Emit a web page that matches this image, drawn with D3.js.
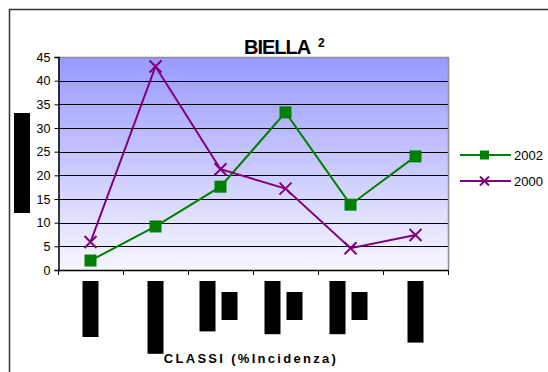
<!DOCTYPE html>
<html>
<head>
<meta charset="utf-8">
<script src="https://cdn.jsdelivr.net/npm/d3@7"></script>
<style>
  body { margin: 0; background: #fff; }
  svg { display: block; font-family: Arial, "Liberation Sans", sans-serif; }
</style>
</head>
<body>
<svg id="chart" width="548" height="372"></svg>
<script>
// Incidence classes (category labels are masked boxes in the source sheet)
const categories = ["c1", "c2", "c3", "c4", "c5", "c6"];
const values2002 = [2, 9.2, 17.6, 33.3, 13.8, 24];
const values2000 = [5.9, 43, 21.3, 17.2, 4.6, 7.4];
const yTicks = [0, 5, 10, 15, 20, 25, 30, 35, 40, 45];
const seriesNames = ["2002", "2000"];
// number of masked lines per category label and their relative lengths
const labelLines = [[1], [1.3], [0.9, 0.5], [0.95, 0.5], [0.95, 0.5], [1.1]];

const svg = d3.select("#chart");
const plot = { left: 58, right: 448, top: 57, bottom: 270 };

const x = d3.scaleBand().domain(categories).range([plot.left, plot.right]);
const y = d3.scaleLinear().domain([0, 45]).range([plot.bottom, plot.top]);

// outer chart frame
svg.append("path")
  .attr("d", `M9.5,372 L9.5,9.5 L548,9.5`)
  .attr("fill", "none").attr("stroke", "#333").attr("stroke-width", 1.5);

// background gradient
const defs = svg.append("defs");
const grad = defs.append("linearGradient").attr("id", "bg")
  .attr("x1", 0).attr("y1", 0).attr("x2", 0).attr("y2", 1);
grad.append("stop").attr("offset", "0%").attr("stop-color", "#9999ff");
grad.append("stop").attr("offset", "100%").attr("stop-color", "#f7f7ff");

svg.append("rect")
  .attr("x", plot.left).attr("y", plot.top)
  .attr("width", plot.right - plot.left).attr("height", plot.bottom - plot.top)
  .attr("fill", "url(#bg)");

// gridlines
svg.append("g").selectAll("line").data(yTicks.filter(d => d > 0 && d < 45)).join("line")
  .attr("x1", plot.left).attr("x2", plot.right)
  .attr("y1", d => Math.round(y(d)) + 0.5).attr("y2", d => Math.round(y(d)) + 0.5)
  .attr("stroke", "#000").attr("stroke-width", 1);

// plot border (top / right)
svg.append("path")
  .attr("d", `M${plot.left},${plot.top + 0.5} L${plot.right + 0.5},${plot.top + 0.5} L${plot.right + 0.5},${plot.bottom}`)
  .attr("fill", "none").attr("stroke", "#8c8c9c").attr("stroke-width", 1.5);

// y axis
const yAxis = d3.axisLeft(y).tickValues(yTicks).tickSize(4).tickPadding(4);
const gy = svg.append("g").attr("transform", `translate(${plot.left + 0.5},0)`).call(yAxis);
gy.select(".domain").attr("stroke", "#000").attr("stroke-width", 1.5);
gy.selectAll("text").attr("font-size", 12.5).attr("fill", "#000")
  .attr("font-family", "Arial, 'Liberation Sans', sans-serif");

// x axis: baseline with ticks at category boundaries
const gx = svg.append("g");
gx.append("line").attr("x1", plot.left).attr("x2", plot.right + 0.5)
  .attr("y1", plot.bottom + 0.5).attr("y2", plot.bottom + 0.5)
  .attr("stroke", "#000").attr("stroke-width", 1.5);
const bounds = categories.map(c => x(c)).concat([x.range()[1]]);
gx.selectAll("line.tick").data(bounds).join("line").attr("class", "tick")
  .attr("x1", d => Math.round(d) + 0.5).attr("x2", d => Math.round(d) + 0.5)
  .attr("y1", plot.bottom).attr("y2", plot.bottom + 5)
  .attr("stroke", "#000").attr("stroke-width", 1);

// masked category labels (rotated text drawn as solid blocks)
const lblG = svg.append("g");
categories.forEach((c, i) => {
  const lines = labelLines[i];
  const n = lines.length;
  const cx = x(c) + x.bandwidth() / 2 - (n > 1 ? 2 : 0);
  lines.forEach((len, j) => {
    const w = 16, gap = 6;
    const left = cx - (n * w + (n - 1) * gap) / 2 + j * (w + gap);
    const top = j === 0 ? 281 : 292;
    lblG.append("rect")
      .attr("x", left).attr("y", top)
      .attr("width", w).attr("height", len * 56)
      .attr("fill", "#000");
  });
});

// masked y-axis title
svg.append("rect").attr("x", 14).attr("y", 113).attr("width", 16).attr("height", 100).attr("fill", "#000");

// series lines
const line = d3.line().x((d, i) => x(categories[i]) + x.bandwidth() / 2).y(d => y(d));
svg.append("path").datum(values2002).attr("d", line)
  .attr("fill", "none").attr("stroke", "#008000").attr("stroke-width", 2);
svg.append("path").datum(values2000).attr("d", line)
  .attr("fill", "none").attr("stroke", "#800080").attr("stroke-width", 2);

// markers
const sq = 12;
svg.append("g").selectAll("rect").data(values2002).join("rect")
  .attr("x", (d, i) => x(categories[i]) + x.bandwidth() / 2 - sq / 2)
  .attr("y", d => y(d) - sq / 2)
  .attr("width", sq).attr("height", sq).attr("fill", "#008000");

const xs = 6;
function cross(g, cx, cy, s) {
  g.append("path")
    .attr("d", `M${cx - s},${cy - s} L${cx + s},${cy + s} M${cx - s},${cy + s} L${cx + s},${cy - s}`)
    .attr("stroke", "#800080").attr("stroke-width", 2).attr("fill", "none");
}
const crossG = svg.append("g");
values2000.forEach((d, i) => cross(crossG, x(categories[i]) + x.bandwidth() / 2, y(d), xs));

// legend
const legY = [155, 181];
const leg = svg.append("g");
leg.append("line").attr("x1", 460).attr("x2", 511).attr("y1", legY[0]).attr("y2", legY[0])
  .attr("stroke", "#008000").attr("stroke-width", 2);
leg.append("rect").attr("x", 480).attr("y", legY[0] - 4.5).attr("width", 9).attr("height", 9).attr("fill", "#008000");
leg.append("line").attr("x1", 460).attr("x2", 511).attr("y1", legY[1]).attr("y2", legY[1])
  .attr("stroke", "#800080").attr("stroke-width", 2);
cross(leg, 484.5, legY[1], 4.5);
seriesNames.forEach((s, i) => {
  leg.append("text").attr("x", 514).attr("y", legY[i]).attr("dy", "0.36em")
    .attr("font-size", 13).attr("fill", "#000").text(s);
});

// title
svg.append("text").attr("x", 244).attr("y", 54)
  .attr("font-size", 20).attr("font-weight", "bold").attr("fill", "#000")
  .attr("letter-spacing", -1).text("BIELLA");
svg.append("text").attr("x", 318).attr("y", 47)
  .attr("font-size", 12).attr("font-weight", "bold").attr("fill", "#000").text("2");

// x axis title
svg.append("text").attr("x", 251).attr("y", 363).attr("text-anchor", "middle")
  .attr("font-size", 13).attr("font-weight", "bold").attr("letter-spacing", 2.3)
  .attr("fill", "#000").text("CLASSI (%Incidenza)");
</script>
</body>
</html>
